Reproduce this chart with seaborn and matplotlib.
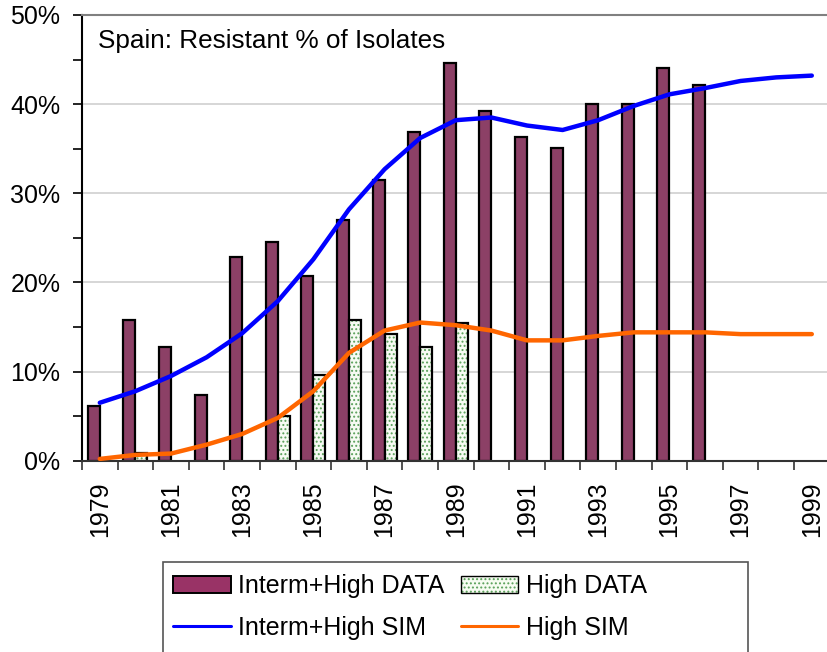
import numpy as np
import pandas as pd
import matplotlib
matplotlib.use("Agg")
import matplotlib.pyplot as plt
import matplotlib.colors as mcolors
from matplotlib.patches import Rectangle, Patch
from matplotlib.lines import Line2D
from matplotlib.ticker import FixedLocator, FuncFormatter, MultipleLocator
import seaborn as sns

# ---------------- data ----------------
years = [str(y) for y in range(1979, 2000)]
ih_data = [6.1, 15.8, 12.8, 7.4, 22.8, 24.5, 20.7, 27.0, 31.5, 36.9, 44.6,
           39.2, 36.3, 35.1, 40.0, 40.0, 44.1, 42.1, None, None, None]
high_data = [None, 0.9, None, None, None, 5.0, 9.6, 15.8, 14.2, 12.8, 15.5,
             None, None, None, None, None, None, None, None, None, None]
ih_sim = [6.5, 7.8, 9.5, 11.6, 14.3, 17.9, 22.6, 28.2, 32.7, 36.2, 38.2,
          38.5, 37.6, 37.1, 38.2, 39.8, 41.1, 41.8, 42.6, 43.0, 43.2]
high_sim = [0.2, 0.65, 0.8, 1.8, 3.0, 4.8, 7.8, 12.1, 14.6, 15.5, 15.2,
            14.6, 13.5, 13.5, 14.0, 14.4, 14.4, 14.4, 14.2, 14.2, 14.2]
series_names = ["Interm+High DATA", "High DATA", "Interm+High SIM", "High SIM"]
title = "Spain: Resistant % of Isolates"

rows = []
for y, v in zip(years, ih_data):
    if v is not None:
        rows.append((y, series_names[0], v))
for y, v in zip(years, high_data):
    if v is not None:
        rows.append((y, series_names[1], v))
bars_df = pd.DataFrame(rows, columns=["year", "series", "value"])

# ---------------- style ----------------
sns.set_theme(style="white")
plt.rcParams["font.family"] = ["Liberation Sans", "DejaVu Sans"]
plt.rcParams["hatch.linewidth"] = 0.9

FS = 18
bar_color = "#993366"
high_face = "#f7fcf2"
hatch_col = "#5aa05a"
blue = "#0000ff"
orange = "#ff6600"

fig = plt.figure(figsize=(8.27, 6.52), dpi=100)
W, H = 827, 652
ax_left, ax_right, ax_top, ax_bot = 82, 829.6, 15, 460.7
ax = fig.add_axes([ax_left / W, 1 - ax_bot / H, (ax_right - ax_left) / W, (ax_bot - ax_top) / H])

sns.barplot(data=bars_df, x="year", y="value", hue="series",
            order=years, hue_order=series_names[:2],
            palette=[bar_color, high_face], width=0.67,
            edgecolor="black", linewidth=1.6, errorbar=None,
            legend=False, ax=ax, zorder=2)

# dotted fill for "High DATA"
for p in ax.containers[1]:
    p.set_hatch("....")
    p.set_edgecolor("black")
    p._hatch_color = mcolors.to_rgba(hatch_col)

xpos = np.arange(len(years))
sns.lineplot(x=xpos, y=ih_sim, color=blue, linewidth=3.2, ax=ax, zorder=4)
sns.lineplot(x=xpos, y=high_sim, color=orange, linewidth=3.2, ax=ax, zorder=4)

ax.set_xlim(-0.5, len(years) - 0.5)
ax.set_ylim(0, 50)
ax.set_xlabel("")
ax.set_ylabel("")

# grid
for g in [10, 20, 30, 40]:
    ax.axhline(g, color="#d0d0d0", lw=1.2, zorder=0)

# ticks
ax.xaxis.set_major_locator(FixedLocator(xpos[::2]))
ax.set_xticklabels(years[::2], rotation=90, fontsize=FS)
ax.xaxis.set_minor_locator(FixedLocator(np.arange(-0.5, len(years), 1.0)))
ax.tick_params(axis="x", which="major", length=0, pad=15, bottom=True)
ax.tick_params(axis="x", which="minor", length=6.5, width=1.2, color="#333333",
               direction="out", bottom=True)
ax.yaxis.set_major_locator(MultipleLocator(10))
ax.yaxis.set_minor_locator(MultipleLocator(5))
ax.yaxis.set_major_formatter(FuncFormatter(lambda v, p: f"{v:.0f}%"))
ax.tick_params(axis="y", which="both", length=6.5, width=1.2, color="black",
               direction="out", left=True, labelsize=FS, pad=9)

for lab in ax.get_xticklabels() + ax.get_yticklabels():
    lab.set_color("black")

# spines
ax.spines["left"].set_color("black")
ax.spines["left"].set_linewidth(1.5)
ax.spines["bottom"].set_color("#333333")
ax.spines["bottom"].set_linewidth(1.5)
ax.spines["top"].set_color("#808080")
ax.spines["top"].set_linewidth(1.5)
ax.spines["right"].set_visible(False)

ax.text((98 - ax_left) / (ax_right - ax_left), (ax_bot - 48) / (ax_bot - ax_top),
        title, transform=ax.transAxes, fontsize=FS + 0.8, va="baseline",
        ha="left", color="black", zorder=5)

# legend (row-wise order as in the reference)
h_ihd = Patch(facecolor=bar_color, edgecolor="black", linewidth=1.4)
h_hd = Patch(facecolor=high_face, edgecolor="black", linewidth=1.0, hatch="....")
h_hd._hatch_color = mcolors.to_rgba(hatch_col)
h_ihs = Line2D([], [], color=blue, linewidth=2.2)
h_hs = Line2D([], [], color=orange, linewidth=2.2)
leg = fig.legend([h_ihd, h_ihs, h_hd, h_hs],
                 [series_names[0], series_names[2], series_names[1], series_names[3]],
                 ncol=2, loc="upper left",
                 bbox_to_anchor=(173 / W, 1 - 574 / H), bbox_transform=fig.transFigure,
                 frameon=False, fontsize=FS, handlelength=2.3, handleheight=0.7,
                 handletextpad=0.3, columnspacing=0.65, labelspacing=0.7,
                 borderpad=0, borderaxespad=0)
for t in leg.get_texts():
    t.set_color("black")
fig.patches.append(Rectangle((163 / W, 1 - 665 / H), (748 - 163) / W, (665 - 562) / H,
                             transform=fig.transFigure, fill=False,
                             edgecolor="#555555", linewidth=1.2))

fig.savefig("out.png", dpi=100)
